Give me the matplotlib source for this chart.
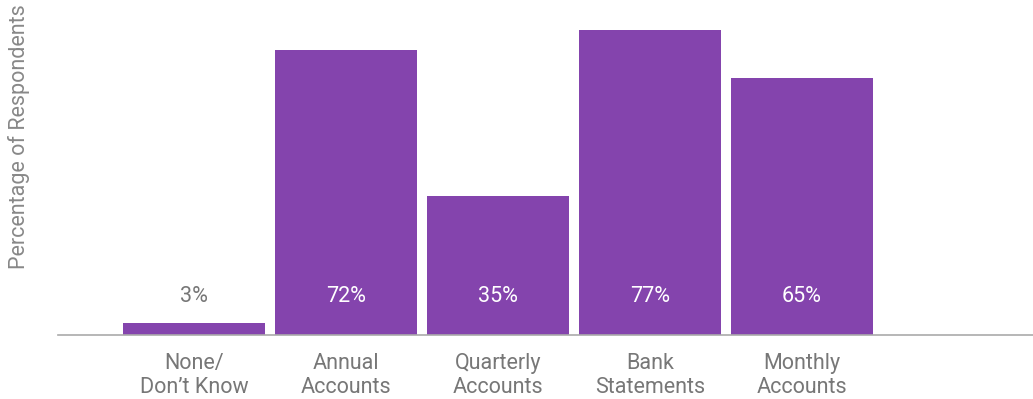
import numpy as np
import matplotlib.pyplot as plt

plt.rcParams['font.family'] = ['Roboto', 'DejaVu Sans']

categories = ["None/\nDon\u2019t Know", "Annual\nAccounts", "Quarterly\nAccounts",
              "Bank\nStatements", "Monthly\nAccounts"]
values = [3, 72, 35, 77, 65]

purple = '#8444ad'
grey = '#777777'

fig = plt.figure(figsize=(10.33, 3.99), dpi=100)
ax = fig.add_axes([58 / 1033, 1 - 335 / 399, (1033 - 58) / 1033, 335 / 399])

x = np.arange(len(categories))
ax.bar(x, values, width=0.934, color=purple, zorder=2)

# value labels sit at a fixed height near the base
for xi, v in zip(x, values):
    ax.text(xi, 9.8, f"{v}%", ha='center', va='center', fontsize=15.5,
            color=grey if v < 10 else 'white', zorder=3)

ax.set_xlim(-0.895, 5.52)
ax.set_ylim(0, 84.6)
ax.set_xticks(x)
ax.set_xticklabels(categories, fontsize=15.5, color=grey, linespacing=1.2)
ax.tick_params(axis='x', length=0, pad=13)
ax.set_yticks([])

for s in ['top', 'right', 'left']:
    ax.spines[s].set_visible(False)
ax.spines['bottom'].set_color('#aaaaaa')
ax.spines['bottom'].set_linewidth(1.2)

fig.text(19 / 1033, 1 - 137 / 399, "Percentage of Respondents", rotation=90,
         ha='center', va='center', fontsize=15.5, color='#888888')

fig.savefig('out.png', dpi=100)
